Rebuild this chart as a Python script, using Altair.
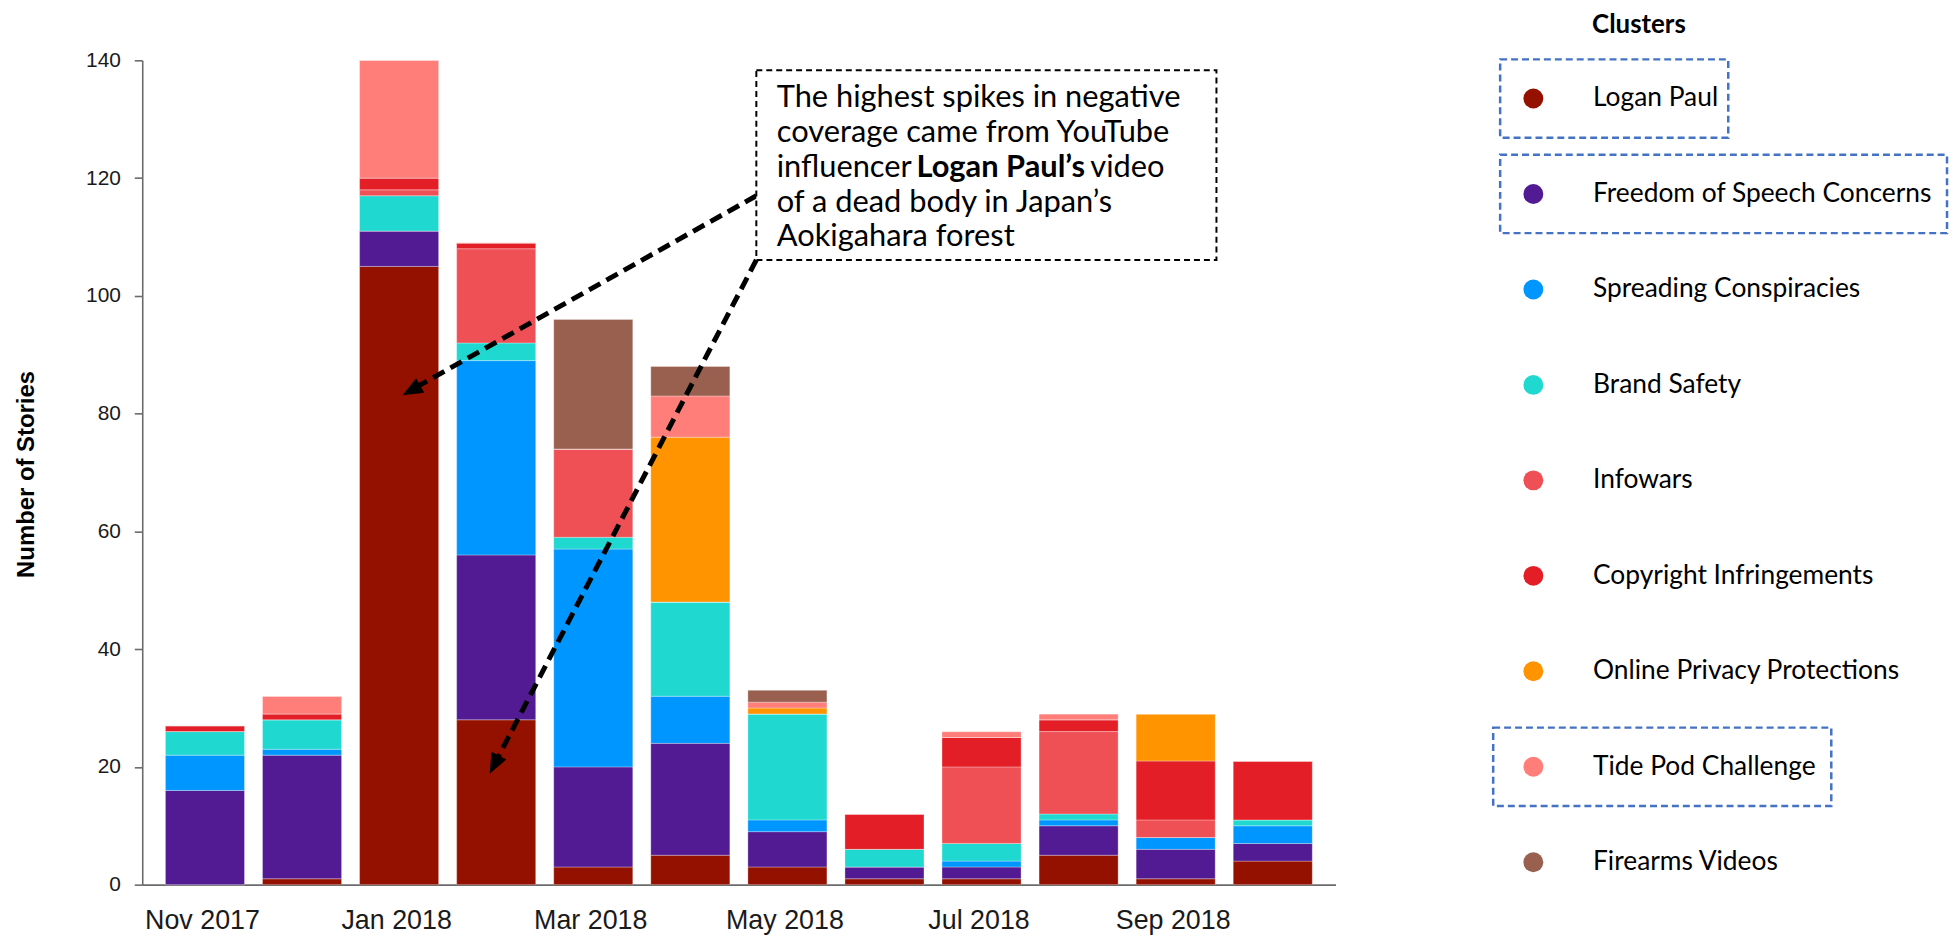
import altair as alt
import pandas as pd

# ---------------- data ----------------
months = ["Nov 2017", "Dec 2017", "Jan 2018", "Feb 2018", "Mar 2018", "Apr 2018",
          "May 2018", "Jun 2018", "Jul 2018", "Aug 2018", "Sep 2018", "Oct 2018"]
tick_months = [0, 2, 4, 6, 8, 10]

clusters = ["Logan Paul", "Freedom of Speech Concerns", "Spreading Conspiracies",
            "Brand Safety", "Infowars", "Copyright Infringements",
            "Online Privacy Protections", "Tide Pod Challenge", "Firearms Videos"]
colors = ["#941100", "#531B93", "#0096FF", "#1FD8D0", "#EF5055", "#E41E26",
          "#FF9300", "#FF7E79", "#99604F"]

logan_paul = [0, 1, 105, 28, 3, 5, 3, 1, 1, 5, 1, 4]
freedom_of_speech = [16, 21, 6, 28, 17, 19, 6, 2, 2, 5, 5, 3]
spreading_conspiracies = [6, 1, 0, 33, 37, 8, 2, 0, 1, 1, 2, 3]
brand_safety = [4, 5, 6, 3, 2, 16, 18, 3, 3, 1, 0, 1]
infowars = [0, 0, 1, 16, 15, 0, 0, 0, 13, 14, 3, 0]
copyright_infringements = [1, 1, 2, 1, 0, 0, 0, 6, 5, 2, 10, 10]
online_privacy = [0, 0, 0, 0, 0, 28, 1, 0, 0, 0, 8, 0]
tide_pod = [0, 3, 20, 0, 0, 7, 1, 0, 1, 1, 0, 0]
firearms = [0, 0, 0, 0, 22, 5, 2, 0, 0, 0, 0, 0]

series = [logan_paul, freedom_of_speech, spreading_conspiracies, brand_safety,
          infowars, copyright_infringements, online_privacy, tide_pod, firearms]

y_ticks = [0, 20, 40, 60, 80, 100, 120, 140]

# annotation (in data units: x = month index, y = stories)
note_lines = ["The highest spikes in negative", "coverage came from YouTube",
              "influencer", "of a dead body in Japan\u2019s", "Aokigahara forest"]
note_line_x = [5.89, 5.89, 5.89, 5.89, 5.89]
note_line_y = [132.0, 126.1, 120.2, 114.3, 108.4]
note_bold = "Logan Paul\u2019s"
note_bold_x = 7.33
note_tail = "video"
note_tail_x = 9.12
note_box_x = [5.68, 10.42]
note_box_y = [106.1, 138.3]
arrow_x0 = [5.68, 5.68]
arrow_y0 = [117.0, 106.1]
arrow_x1 = [2.124, 2.979]
arrow_y1 = [84.0, 20.35]
arrow_tip_x = [2.036, 2.933]
arrow_tip_y = [83.1, 18.85]
arrow_angle = [240.6, 207.3]

# legend highlight boxes
highlight = ["Logan Paul", "Freedom of Speech Concerns", "Tide Pod Challenge"]
highlight_x0 = [16.6, 16.6, 9.6]
highlight_x1 = [246.0, 466.0, 349.6]

# ---------------- tables ----------------
rows = []
for ci, (c, vals) in enumerate(zip(clusters, series)):
    for mi, v in enumerate(vals):
        rows.append({"idx": mi, "month": months[mi], "cluster": c, "order": ci, "value": v})
df = pd.DataFrame(rows)

label_expr = "[" + ",".join("'" + m + "'" for m in months) + "][datum.value]"

W, H = 1200, 829
xscale = alt.Scale(domain=[-0.595, 11.595], nice=False, zero=False)
yscale = alt.Scale(domain=[0, 140], nice=False)

bars = alt.Chart(df).mark_bar(size=79.5, stroke="white", strokeWidth=0.6, strokeOpacity=0.5).encode(
    x=alt.X("idx:Q", scale=xscale,
            axis=alt.Axis(values=tick_months, labelExpr=label_expr, title=None,
                          ticks=False, tickSize=0, labelPadding=23, labelFlush=False,
                          labelOverlap=False, labelFont="Liberation Sans", labelFontSize=27,
                          labelColor="#1a1a1a", labelOffset=-3, domainColor="#6b6b6b",
                          domainWidth=1.6, grid=False, labelBaseline="top")),
    y=alt.Y("value:Q", stack="zero", scale=yscale,
            axis=alt.Axis(values=y_ticks, title="Number of Stories", titleFont="Liberation Sans",
                          titleFontSize=24, titleFontWeight="bold", titleColor="#000000",
                          titleAngle=270, titleX=-109.5, titleY=416, titleAlign="center",
                          titleBaseline="alphabetic",
                          labelFont="Liberation Sans", labelFontSize=21, labelColor="#1a1a1a",
                          labelPadding=14, tickSize=8, tickColor="#6b6b6b", tickWidth=1.6,
                          domainColor="#6b6b6b", domainWidth=1.6, grid=False)),
    color=alt.Color("cluster:N", scale=alt.Scale(domain=clusters, range=colors), legend=None),
    order=alt.Order("order:Q", sort="ascending"),
)

arrows_df = pd.DataFrame({"x0": arrow_x0, "y0": arrow_y0, "x1": arrow_x1, "y1": arrow_y1})
arrows = alt.Chart(arrows_df).mark_rule(color="black", strokeWidth=5, strokeDash=[13, 7]).encode(
    x=alt.X("x0:Q", scale=xscale), y=alt.Y("y0:Q", scale=yscale),
    x2="x1:Q", y2="y1:Q")

heads_df = pd.DataFrame({"x": arrow_tip_x, "y": arrow_tip_y, "a": arrow_angle})
heads = alt.Chart(heads_df).mark_point(shape="M0,0L0.78,1.9L-0.78,1.9Z", filled=True,
                                       color="black", opacity=1, size=460).encode(
    x=alt.X("x:Q", scale=xscale), y=alt.Y("y:Q", scale=yscale),
    angle=alt.Angle("a:Q", scale=None))

box_df = pd.DataFrame({"x0": [note_box_x[0]], "x1": [note_box_x[1]],
                       "y0": [note_box_y[0]], "y1": [note_box_y[1]]})
box = alt.Chart(box_df).mark_rect(fill="white", stroke="black", strokeWidth=2,
                                  strokeDash=[6, 4]).encode(
    x=alt.X("x0:Q", scale=xscale), x2="x1:Q",
    y=alt.Y("y0:Q", scale=yscale), y2="y1:Q")

text_df = pd.DataFrame({"x": note_line_x + [note_tail_x], "y": note_line_y + [note_line_y[2]],
                        "t": note_lines + [note_tail]})
note_text = alt.Chart(text_df).mark_text(align="left", baseline="alphabetic", font="Lato",
                                         fontSize=31, color="black").encode(
    x=alt.X("x:Q", scale=xscale), y=alt.Y("y:Q", scale=yscale), text="t:N")

bold_df = pd.DataFrame({"x": [note_bold_x], "y": [note_line_y[2]], "t": [note_bold]})
note_bold_text = alt.Chart(bold_df).mark_text(align="left", baseline="alphabetic", font="Lato",
                                              fontSize=31, fontWeight="bold", color="black").encode(
    x=alt.X("x:Q", scale=xscale), y=alt.Y("y:Q", scale=yscale), text="t:N")

main = alt.layer(bars, arrows, heads, box, note_text, note_bold_text).properties(width=W, height=H)

# ---------------- legend panel ----------------
LW = 470
SYM_X = 50
LAB_X = 110
lxs = alt.Scale(domain=[0, LW], nice=False, zero=False)
lys = alt.Scale(domain=[-0.4, 8.235], nice=False, zero=False, reverse=True)

leg_df = pd.DataFrame({"cluster": clusters, "row": list(range(len(clusters))),
                       "sx": [SYM_X] * len(clusters), "lx": [LAB_X] * len(clusters)})
leg_pts = alt.Chart(leg_df).mark_point(shape="circle", filled=True, opacity=1, size=400).encode(
    x=alt.X("sx:Q", scale=lxs, axis=None), y=alt.Y("row:Q", scale=lys, axis=None),
    color=alt.Color("cluster:N", scale=alt.Scale(domain=clusters, range=colors), legend=None))
leg_lab = alt.Chart(leg_df).mark_text(align="left", baseline="middle", font="Lato", fontSize=26.5,
                                      color="black").encode(
    x=alt.X("lx:Q", scale=lxs, axis=None), y=alt.Y("row:Q", scale=lys, axis=None),
    text="cluster:N")
title_df = pd.DataFrame({"x": [LAB_X - 1], "y": [-0.6875], "t": ["Clusters"]})
leg_title = alt.Chart(title_df).mark_text(align="left", baseline="alphabetic", font="Lato",
                                          fontSize=26, fontWeight="bold", color="black").encode(
    x=alt.X("x:Q", scale=lxs, axis=None), y=alt.Y("y:Q", scale=lys, axis=None), text="t:N")

hl_rows = [clusters.index(h) for h in highlight]
hl_df = pd.DataFrame({"x0": highlight_x0, "x1": highlight_x1,
                      "y0": [r - 0.41 for r in hl_rows], "y1": [r + 0.41 for r in hl_rows]})
hl = alt.Chart(hl_df).mark_rect(fill="white", fillOpacity=0, stroke="#4472C4", strokeWidth=2.5,
                                strokeDash=[7, 4]).encode(
    x=alt.X("x0:Q", scale=lxs, axis=None), x2="x1:Q",
    y=alt.Y("y0:Q", scale=lys, axis=None), y2="y1:Q")

legend_panel = alt.layer(hl, leg_pts, leg_lab, leg_title).properties(width=LW, height=H)

chart = alt.hconcat(main, legend_panel, spacing=149, bounds="flush").resolve_scale(
    x="independent", y="independent", color="shared"
).properties(
    padding={"left": 6, "top": 1, "right": 0, "bottom": 0},
    background="white",
).configure_view(strokeWidth=0, stroke="transparent")

chart.save("out.html", embed_options={"renderer": "svg", "actions": False})
